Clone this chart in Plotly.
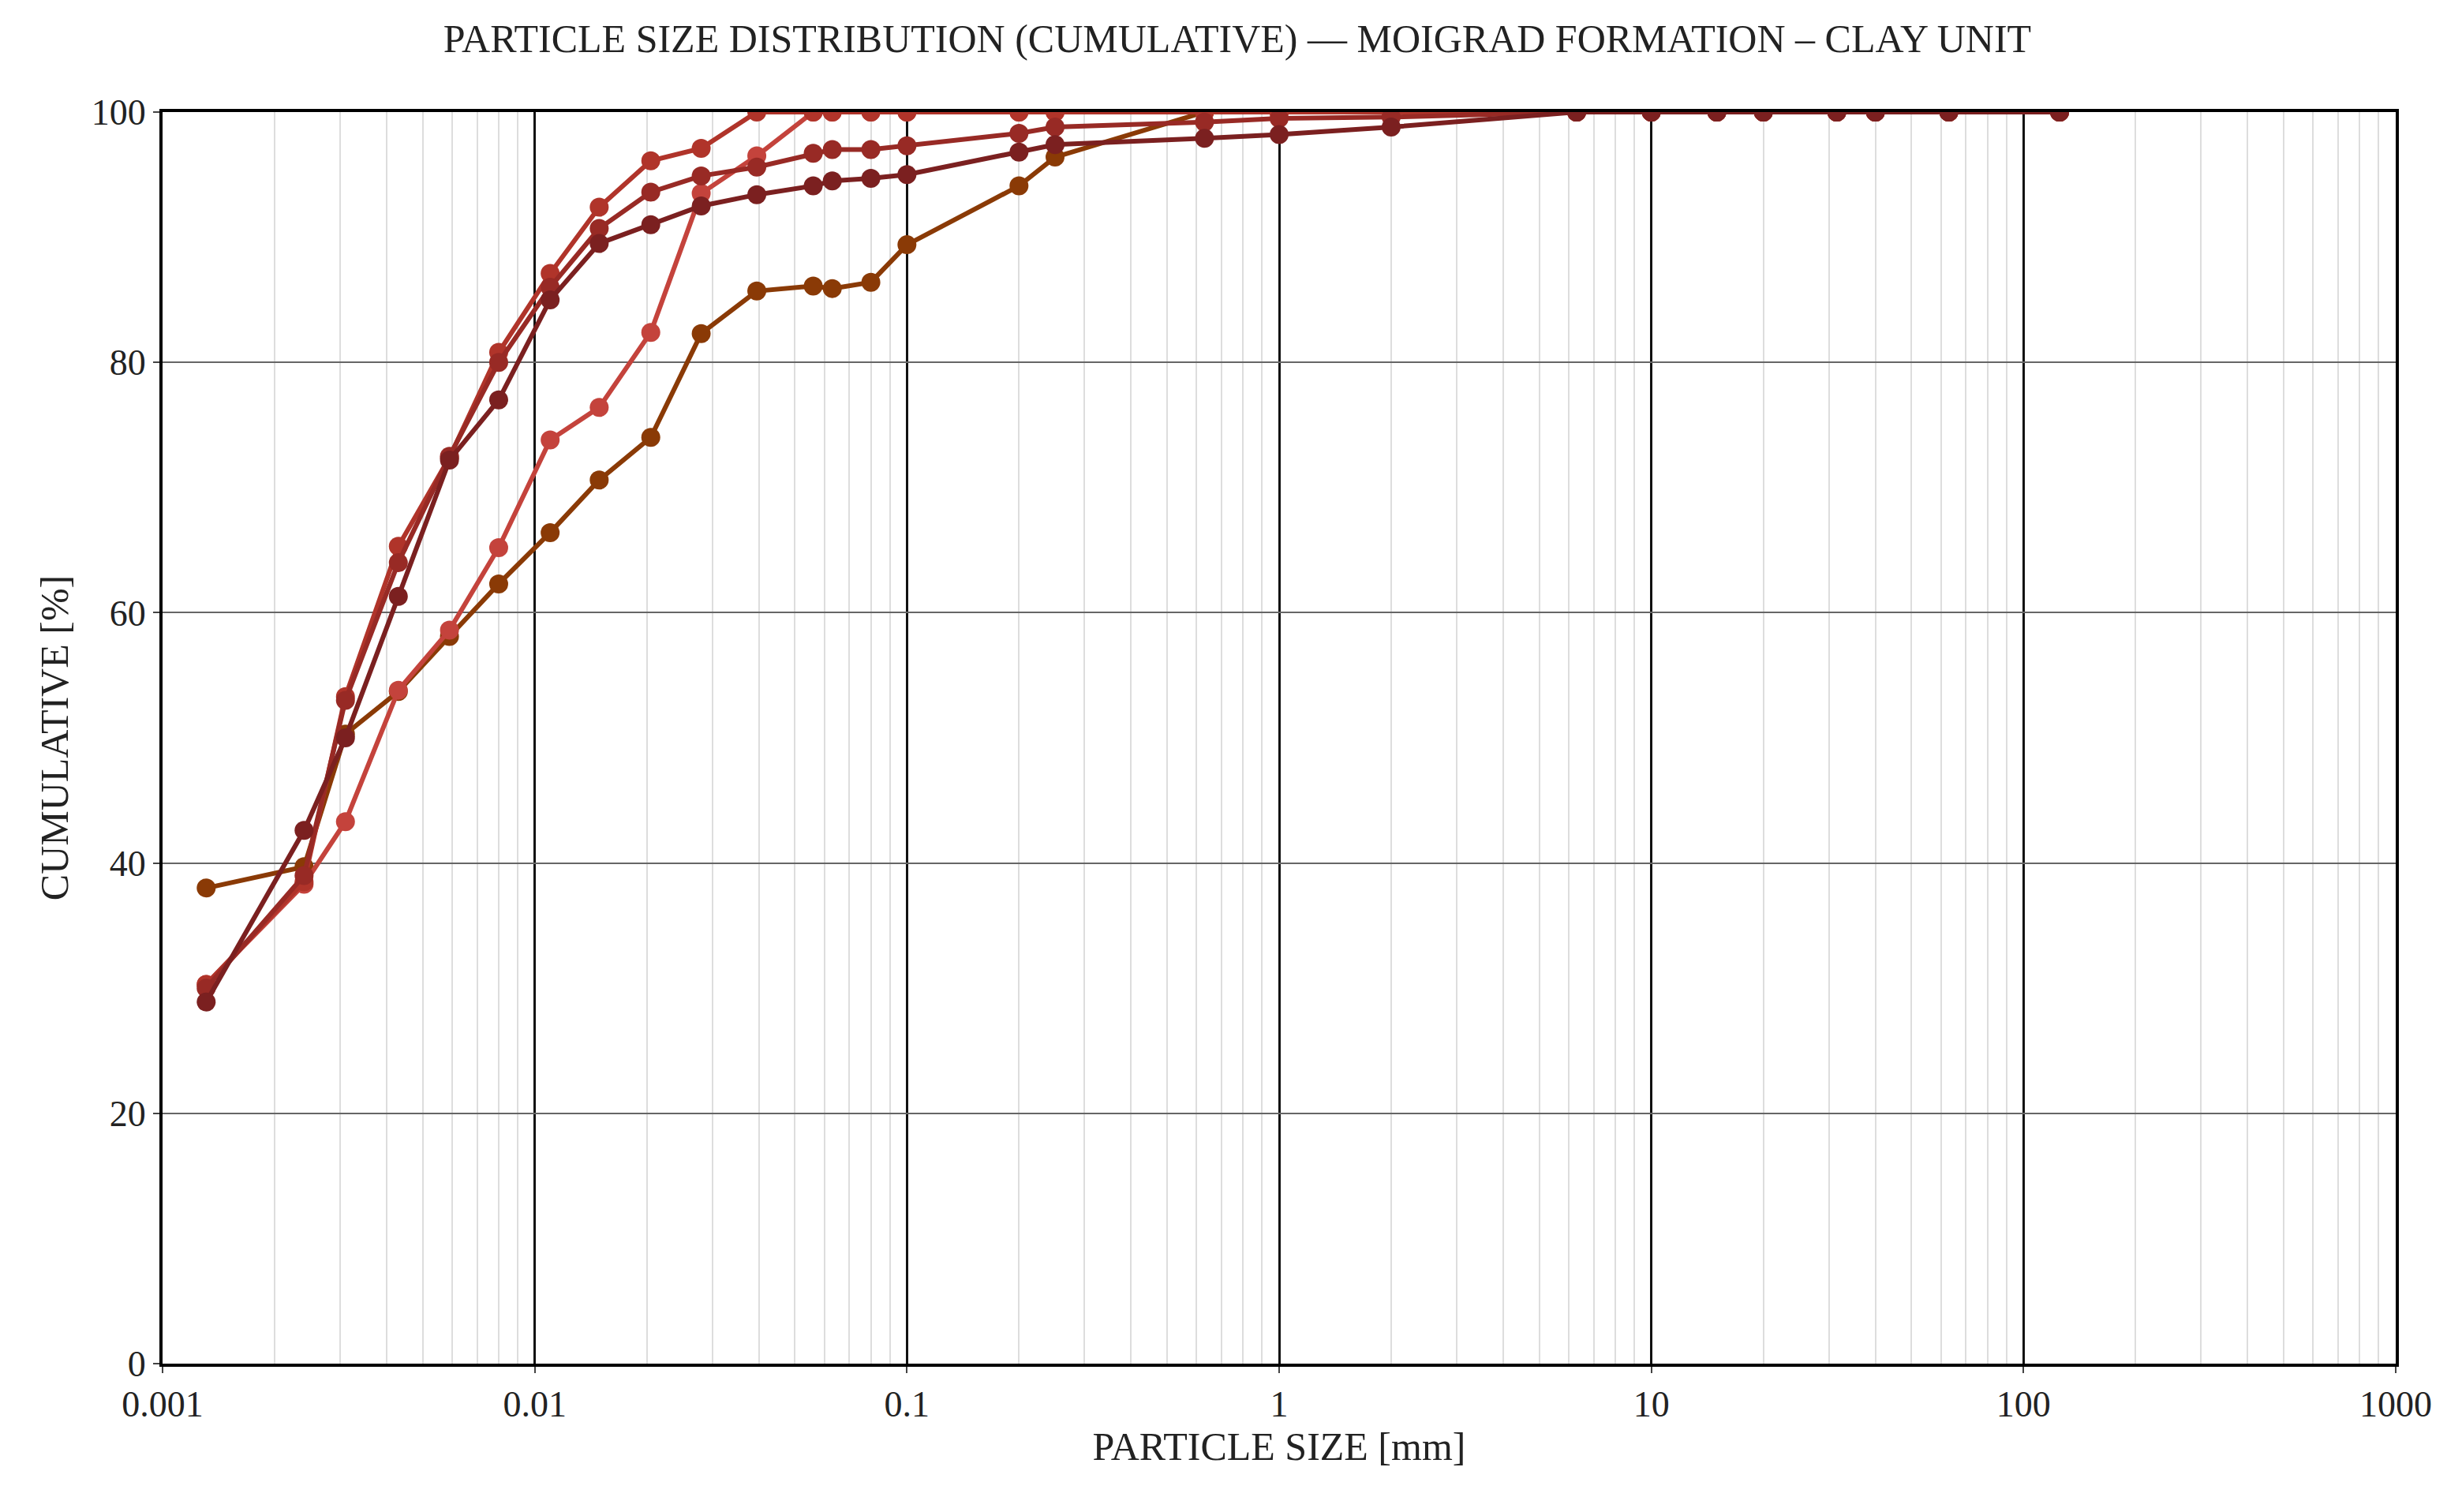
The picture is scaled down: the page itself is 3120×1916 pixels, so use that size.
import plotly.graph_objects as go

sizes = [0.00131, 0.0024, 0.0031, 0.0043, 0.0059, 0.008, 0.011, 0.0149, 0.0205, 0.028, 0.0395,
         0.056, 0.063, 0.08, 0.1, 0.2, 0.25, 0.63, 1, 2, 6.3, 10, 15, 20, 31.5, 40, 63, 125]
s_a = [28.9, 42.6, 50.0, 61.3, 72.2, 77.0, 85.0, 89.5, 91.0, 92.5, 93.4, 94.1, 94.5, 94.7, 95.0,
       96.8, 97.4, 97.9, 98.2, 98.8, 100, 100, 100, 100, 100, 100, 100, 100]
s_b = [30.0, 39.0, 53.0, 64.0, 72.5, 80.0, 86.0, 90.7, 93.6, 94.9, 95.6, 96.7, 97.0, 97.0, 97.3,
       98.3, 98.8, 99.2, 99.5, 99.6, 100, 100, 100, 100, 100, 100, 100, 100]
s_c = [30.3, 38.5, 53.3, 65.3, 72.4, 80.8, 87.1, 92.4, 96.1, 97.1, 100, 100, 100, 100, 100,
       100, 100, 100, 100, 100, 100, 100, 100, 100, 100, 100, 100, 100]
s_d = [30.3, 38.3, 43.3, 53.8, 58.6, 65.2, 73.8, 76.4, 82.4, 93.5, 96.5, 100, 100, 100, 100,
       100, 100, 100, 100, 100, 100, 100, 100, 100, 100, 100, 100, 100]
s_e = [38.0, 39.7, 50.3, 53.7, 58.1, 62.3, 66.4, 70.6, 74.0, 82.3, 85.7, 86.1, 85.9, 86.4, 89.4,
       94.1, 96.4, 100, 100, 100, 100, 100, 100, 100, 100, 100, 100, 100]
series = [(s_e, "#8a3a06"), (s_d, "#c4433c"), (s_c, "#b0342a"), (s_b, "#982a25"), (s_a, "#7b2020")]
tickvals = [0.001, 0.01, 0.1, 1, 10, 100, 1000]
ticktext = ["0.001", "0.01", "0.1", "1", "10", "100", "1000"]

fig = go.Figure()
for ys, c in series:
    fig.add_trace(go.Scatter(x=sizes, y=ys, mode="lines+markers", line=dict(color=c, width=6),
                             marker=dict(color=c, size=24), showlegend=False))

font = "Liberation Serif"
fig.update_layout(
    width=3120, height=1916, plot_bgcolor="white", paper_bgcolor="white",
    margin=dict(l=198, r=92, t=134, b=196),
    font=dict(family=font, size=46, color="#222"),
    title=dict(text="PARTICLE SIZE DISTRIBUTION (CUMULATIVE) — MOIGRAD FORMATION – CLAY UNIT",
               x=0.5, xanchor="center", y=0.988, yanchor="top", font=dict(size=50)),
)
fig.update_xaxes(type="log", range=[-3, 3], tickvals=tickvals, ticktext=ticktext,
                 showgrid=True, gridcolor="#111", gridwidth=3,
                 minor=dict(showgrid=True, gridcolor="#dddddd", gridwidth=2, dtick="D1"),
                 showline=True, linecolor="black", linewidth=4, mirror=True,
                 ticks="outside", ticklen=8, tickwidth=2,
                 title=dict(text="PARTICLE SIZE [mm]", font=dict(size=50), standoff=10))
fig.update_yaxes(range=[0, 100], dtick=20, showgrid=True, gridcolor="#666", gridwidth=2,
                 showline=True, linecolor="black", linewidth=4, mirror=True, zeroline=False,
                 ticks="outside", ticklen=8, tickwidth=2,
                 title=dict(text="CUMULATIVE [%]", font=dict(size=50), standoff=14))
fig.write_html("out.html")
